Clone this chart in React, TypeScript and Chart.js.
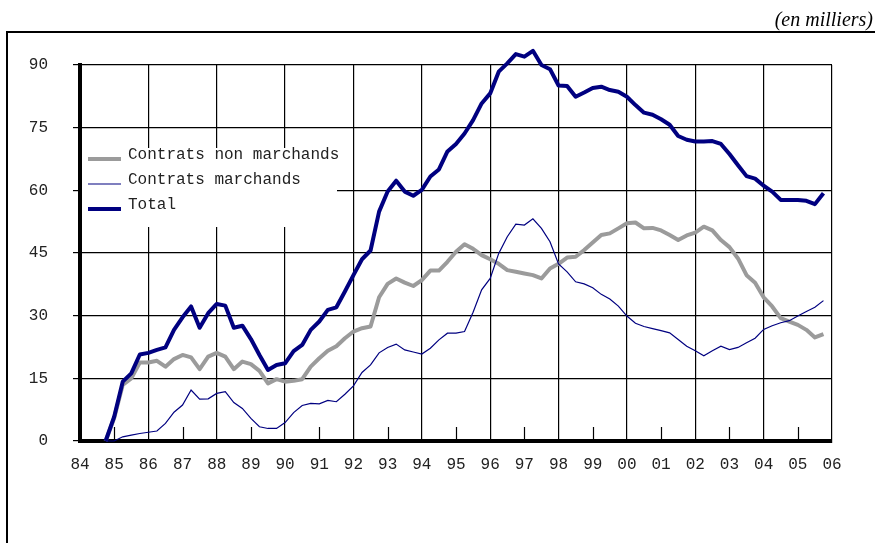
import React, { useEffect, useRef } from 'react';
import { Chart, registerables } from 'chart.js';

Chart.register(...registerables);

// ---- data ----
const yearLabels = ['84', '85', '86', '87', '88', '89', '90', '91', '92', '93', '94', '95', '96', '97', '98', '99', '00', '01', '02', '03', '04', '05', '06'];
const firstYear = 84;
const firstQuarter = 84.75; // 4th quarter 1984, quarterly series
const yTickValues = [0, 15, 30, 45, 60, 75, 90];
const seriesLabels = ['Contrats non marchands', 'Contrats marchands', 'Total'];
const unitLabel = '(en milliers)';

const nonMarchands = [
  0, 5.5, 13.4, 15.0, 18.8, 18.8, 19.2, 17.8, 19.6, 20.6, 20.0, 17.2, 20.2, 21.1, 20.2, 17.2,
  19.0, 18.4, 16.8, 13.8, 14.8, 14.2, 14.4, 14.8, 17.8, 19.8, 21.6, 22.7, 24.6, 26.2, 27.0, 27.4,
  34.4, 37.6, 38.9, 37.9, 37.1, 38.5, 40.8, 40.8, 42.9, 45.3, 47.1, 46.0, 44.5, 43.5, 42.4, 40.9,
  40.5, 40.1, 39.7, 38.9, 41.3, 42.4, 43.9, 44.1, 45.7, 47.5, 49.3, 49.7, 50.9, 52.1, 52.3, 50.9,
  51.0, 50.4, 49.3, 48.1, 49.2, 49.9, 51.3, 50.4, 48.1, 46.4, 43.7, 39.7, 37.9, 34.4, 32.2, 29.4,
  28.6, 27.8, 26.6, 24.8, 25.6,
];

const marchands = [
  0, 0, 1.0, 1.4, 1.8, 2.1, 2.4, 4.2, 6.9, 8.6, 12.2, 10.0, 10.1, 11.4, 11.8, 9.2,
  7.8, 5.4, 3.4, 3.0, 3.0, 4.4, 6.8, 8.5, 9.0, 8.9, 9.7, 9.4, 11.2, 13.2, 16.4, 18.2,
  21.1, 22.4, 23.2, 21.8, 21.3, 20.8, 22.2, 24.2, 25.8, 25.8, 26.2, 30.8, 36.2, 38.9, 44.9, 48.9,
  51.9, 51.7, 53.2, 50.9, 47.7, 42.4, 40.5, 38.1, 37.6, 36.7, 35.1, 34.0, 32.3, 29.9, 28.2, 27.4,
  26.9, 26.4, 25.9, 24.3, 22.7, 21.6, 20.4, 21.6, 22.7, 21.9, 22.4, 23.5, 24.6, 26.7, 27.6, 28.3,
  28.8, 29.9, 31.0, 32.0, 33.6,
];

const total = [
  0, 5.8, 14.2, 16.2, 20.7, 21.1, 21.8, 22.4, 26.6, 29.6, 32.2, 27.1, 30.6, 32.8, 32.4, 27.1,
  27.6, 24.4, 20.6, 17.0, 18.2, 18.6, 21.5, 23.0, 26.6, 28.6, 31.4, 32.0, 35.8, 39.7, 43.5, 45.6,
  54.9, 59.7, 62.3, 59.7, 58.7, 60.1, 63.3, 65.0, 69.3, 71.1, 73.6, 76.8, 80.8, 83.2, 88.4, 90.4,
  92.6, 92.0, 93.4, 90.0, 89.0, 85.1, 85.0, 82.4, 83.4, 84.5, 84.8, 84.0, 83.6, 82.4, 80.4, 78.6,
  78.1, 77.0, 75.7, 73.0, 72.1, 71.7, 71.7, 71.8, 71.1, 68.7, 66.0, 63.4, 62.8, 61.1, 59.7, 57.7,
  57.7, 57.7, 57.5, 56.7, 59.3,
];

const toPoints = (arr: number[]) => arr.map((v, i) => ({ x: firstQuarter + i * 0.25, y: v }));

const MONO = '"Liberation Mono", "DejaVu Sans Mono", monospace';

const decorPlugin = {
  id: 'decor',
  beforeDraw(chart: any) {
    const ctx = chart.ctx;
    ctx.save();
    ctx.fillStyle = '#ffffff';
    ctx.fillRect(0, 0, chart.width, chart.height);
    // outer frame (left + top)
    ctx.strokeStyle = '#000';
    ctx.lineWidth = 2;
    ctx.beginPath();
    ctx.moveTo(7, chart.height);
    ctx.lineTo(7, 32);
    ctx.lineTo(chart.width, 32);
    ctx.stroke();
    // unit label
    ctx.font = 'italic 20px "Liberation Serif", "DejaVu Serif", serif';
    ctx.fillStyle = '#000';
    ctx.textAlign = 'right';
    ctx.textBaseline = 'alphabetic';
    ctx.fillText(unitLabel, 873, 26);
    ctx.restore();
  },
  beforeDatasetsDraw(chart: any) {
    const ctx = chart.ctx;
    const xs = chart.scales.x;
    const ca = chart.chartArea;
    ctx.save();
    // short inside ticks for odd years
    ctx.strokeStyle = '#000';
    ctx.lineWidth = 1.2;
    yearLabels.forEach((_, i) => {
      const v = firstYear + i;
      if (v % 2 === 1) {
        const px = Math.round(xs.getPixelForValue(v)) + 0.5;
        ctx.beginPath();
        ctx.moveTo(px, ca.bottom);
        ctx.lineTo(px, ca.bottom - 14);
        ctx.stroke();
      }
    });
    // legend box
    ctx.fillStyle = '#ffffff';
    ctx.fillRect(ca.left + 2, 148, 255, 79);
    ctx.font = '16px ' + MONO;
    ctx.textAlign = 'left';
    ctx.textBaseline = 'alphabetic';
    chart.data.datasets.forEach((ds: any, i: number) => {
      const y = 159 + 25 * i;
      ctx.strokeStyle = ds.borderColor;
      ctx.lineWidth = ds.borderWidth;
      ctx.beginPath();
      ctx.moveTo(ca.left + 8, y);
      ctx.lineTo(ca.left + 41, y);
      ctx.stroke();
      ctx.fillStyle = '#222';
      ctx.fillText(ds.label, ca.left + 48, y);
    });
    ctx.restore();
  },
};

export default function App() {
  const ref = useRef<HTMLCanvasElement>(null);
  useEffect(() => {
    if (!ref.current) return;
    const chart = new Chart(ref.current, {
      type: 'line',
      data: {
        datasets: [
          {
            label: seriesLabels[0],
            data: toPoints(nonMarchands),
            borderColor: '#9b9b9b',
            borderWidth: 4,
            pointRadius: 0,
            tension: 0,
            borderJoinStyle: 'round',
            clip: false,
            order: 2,
          },
          {
            label: seriesLabels[1],
            data: toPoints(marchands),
            borderColor: '#000080',
            borderWidth: 1.2,
            pointRadius: 0,
            tension: 0,
            clip: false,
            order: 1,
          },
          {
            label: seriesLabels[2],
            data: toPoints(total),
            borderColor: '#000080',
            borderWidth: 4,
            pointRadius: 0,
            tension: 0,
            borderJoinStyle: 'round',
            clip: false,
            order: 0,
          },
        ],
      },
      options: {
        animation: false,
        responsive: false,
        devicePixelRatio: 1,
        layout: { padding: { left: 0, top: 65, right: 43, bottom: 52 } },
        plugins: {
          legend: { display: false },
          tooltip: { enabled: false },
          title: { display: false },
        },
        scales: {
          x: {
            type: 'linear',
            min: firstYear,
            max: firstYear + yearLabels.length - 1,
            afterFit: (s: any) => {
              s.height = 50;
            },
            ticks: {
              stepSize: 1,
              autoSkip: false,
              maxRotation: 0,
              padding: 14,
              color: '#222',
              font: { family: MONO, size: 16 },
              callback: (v: any) => yearLabels[Math.round(Number(v)) - firstYear] ?? '',
            },
            grid: {
              color: (c: any) =>
                c.tick && Math.round(c.tick.value) % 2 === 0 ? '#000' : 'rgba(0,0,0,0)',
              lineWidth: 1.2,
              drawTicks: false,
            },
            border: { display: true, color: '#000', width: 4 },
          },
          y: {
            min: yTickValues[0],
            max: yTickValues[yTickValues.length - 1],
            afterFit: (s: any) => {
              s.width = 80;
            },
            afterBuildTicks: (s: any) => {
              s.ticks = yTickValues.map((v) => ({ value: v }));
            },
            ticks: {
              padding: 25,
              color: '#222',
              font: { family: MONO, size: 16 },
              callback: (v: any) => String(v),
            },
            grid: {
              color: '#000',
              lineWidth: 1.2,
              drawTicks: true,
              tickLength: 7,
              tickColor: '#000',
            },
            border: { display: true, color: '#000', width: 4 },
          },
        },
      },
      plugins: [decorPlugin],
    } as any);
    return () => chart.destroy();
  }, []);
  return (
    <div style={{ position: 'absolute', left: 0, top: 0, width: 875, height: 543, background: '#fff' }}>
      <canvas ref={ref} width={875} height={543} style={{ display: 'block' }} />
    </div>
  );
}
